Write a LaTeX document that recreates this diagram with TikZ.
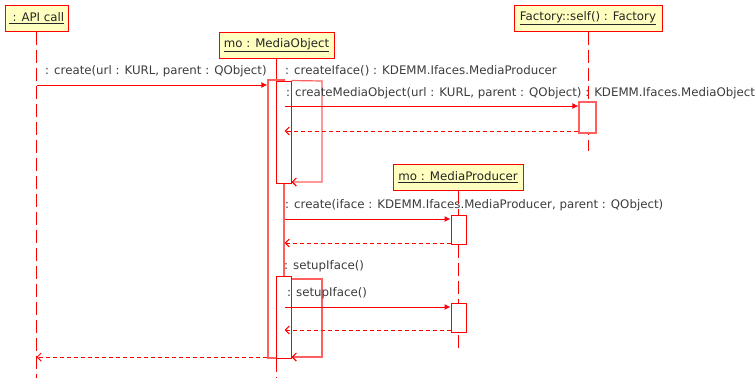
\documentclass[tikz,border=0pt]{standalone}
\usepackage{fontspec}
\setmainfont{DejaVu Sans}
\usetikzlibrary{arrows.meta}
\definecolor{umlred}{RGB}{255,0,0}
\definecolor{umlpink}{RGB}{255,95,95}
\definecolor{objfill}{RGB}{255,255,192}
\definecolor{msgtext}{RGB}{60,60,60}
\begin{document}
\begin{tikzpicture}[x=1pt,y=-1pt,
  font=\fontsize{11.8}{14}\selectfont,
  object/.style={draw=umlred, fill=objfill, line width=1pt, inner sep=0pt,
    minimum height=26pt, text=black!85},
  activation/.style={draw=umlred, fill=white, line width=1pt, inner sep=0pt,
    minimum width=15pt},
  outeract/.style={activation, draw=umlpink, line width=1.2pt, minimum width=16pt},
  lifeline/.style={draw=umlred, line width=1pt, dash pattern=on 13pt off 5pt},
  call/.style={draw=umlred, line width=1pt, -{Latex[length=6pt,width=6pt]}},
  reply/.style={draw=umlred, line width=1pt, dash pattern=on 4pt off 3pt,
    -{Straight Barb[length=4pt,width=8pt]}},
  selfcall/.style={draw=umlpink, line width=1.2pt,
    -{Straight Barb[length=4pt,width=8pt,umlred]}},
  msg/.style={text=msgtext, anchor=base west, inner sep=0pt},
]
\useasboundingbox (0,0) rectangle (756,378);

% participants
\node[object, minimum width=63pt]  (api) at (36.5,18)  {\underline{ : API call}};
\node[object, minimum width=115pt] (mo)  at (276.5,45) {\underline{mo : MediaObject}};
\node[object, minimum width=148pt] (fac) at (588,18)   {\underline{Factory::self() : Factory}};
\node[object, minimum width=130pt] (mp)  at (458,177)  {\underline{mo : MediaProducer}};

% message rows
\coordinate (r1) at (0,85);
\coordinate (r2) at (0,106);
\coordinate (r2b) at (0,131);
\coordinate (r3) at (0,219);
\coordinate (r3b) at (0,243);
\coordinate (r4) at (0,307);
\coordinate (r4b) at (0,330);
\coordinate (bottom) at (0,378);

% lifelines
\draw[lifeline] (api.south) -- (api.south |- bottom);
\draw[lifeline] (fac.south) -- (fac.south |- 0,151);
\draw[lifeline] (mp.south) -- (mp.south |- 0,350);

% activations
\node[outeract, minimum height=278pt] (outer) at (276,219) {};
\draw[draw=umlred, line width=1pt] (mo.south) -- (mo.south |- outer.north);
\draw[lifeline] (mo.south |- outer.south) -- (mo.south |- bottom);
\node[activation, minimum height=102pt] (inner1) at (283.5,132) {};
\node[activation, minimum height=82pt]  (inner2) at (283.5,317) {};
\node[activation, draw=umlpink, line width=1.2pt, minimum width=17pt, minimum height=31pt] (actf) at (587.5,117.5) {};
\node[activation, minimum height=29pt] (mpa) at (458.5,229.5) {};
\node[activation, minimum height=29pt] (mpb) at (458.5,317.5) {};

% self calls
\coordinate (loopA) at (322,81);
\coordinate (loopB) at (322,279);
\draw[selfcall] (inner1.north east) -- (loopA) -- (loopA |- 0,182) -- (inner1.east |- 0,182);
\draw[selfcall] (inner2.east |- loopB) -- (loopB) -- (loopB |- 0,357) -- (inner2.east |- 0,357);

% messages
\draw[call]  (api.south |- r1) -- (outer.west |- r1);
\draw[call]  (outer.east |- r2) -- (actf.west |- r2);
\draw[reply] (actf.west |- r2b) -- (outer.east |- r2b);
\draw[call]  (outer.east |- r3) -- (mpa.west |- r3);
\draw[reply] (mpa.west |- r3b) -- (outer.east |- r3b);
\draw[call]  (outer.east |- r4) -- (mpb.west |- r4);
\draw[reply] (mpb.west |- r4b) -- (outer.east |- r4b);
\draw[reply] (outer.west |- 0,357) -- (api.south |- 0,357);

% message labels
\node[msg] (l1) at (45,74)  {: create(url : KURL, parent : QObject)};
\node[msg] (l2) at (285,74) {: createIface() : KDEMM.Ifaces.MediaProducer};
\node[msg] (l3) at (286,96) {: createMediaObject(url : KURL, parent : QObject) : KDEMM.Ifaces.MediaObject};
\node[msg] (l4) at (285,208) {: create(iface : KDEMM.Ifaces.MediaProducer, parent : QObject)};
\node[msg] (l5) at (284,269) {: setupIface()};
\node[msg] (l6) at (287,296) {: setupIface()};
\end{tikzpicture}
\end{document}
